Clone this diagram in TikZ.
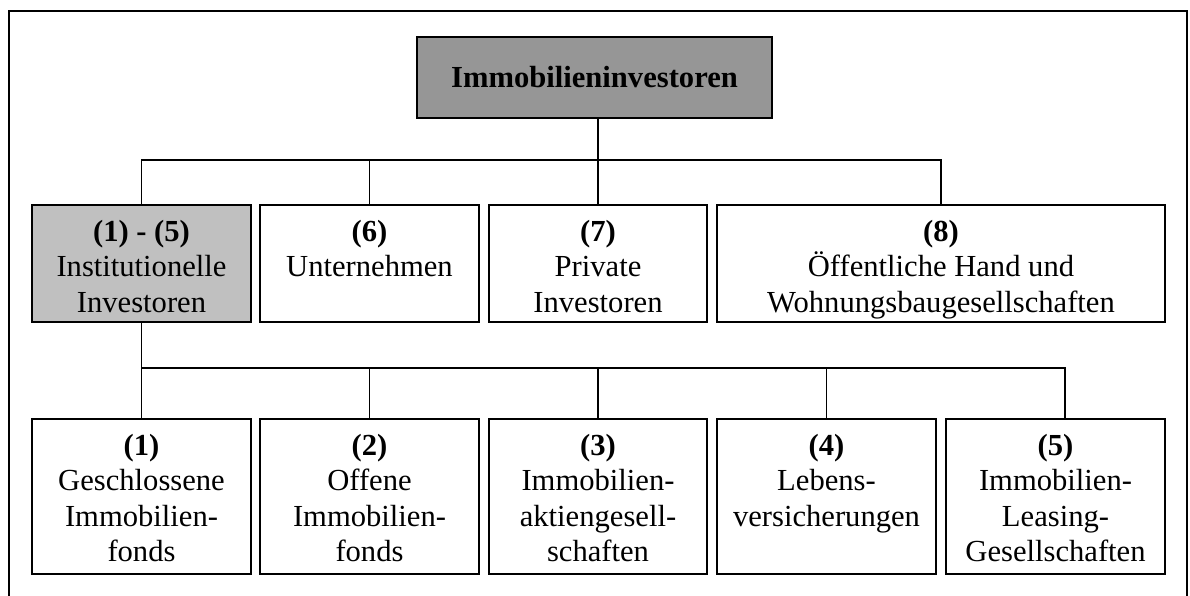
\documentclass[tikz,border=0pt]{standalone}
\usepackage{fontspec}
\setmainfont{Liberation Serif}
\usetikzlibrary{calc}
\definecolor{rootgray}{RGB}{150,150,150}
\definecolor{groupgray}{RGB}{192,192,192}
% cell text: top-aligned lines inside a fixed box
\newcommand{\celltext}[3]{\parbox[c][#2][t]{#1}{\centering\rule{0pt}{36.5pt}#3}}
\begin{document}
\begin{tikzpicture}[x=1pt,y=-1pt,
  every node/.style={font=\fontsize{30.6}{35.4}\selectfont},
  cell/.style={draw, line width=1.8pt, inner sep=0pt, outer sep=0pt, anchor=north west},
  conn/.style={line width=1.8pt},
  frame/.style={line width=2.4pt}]
\useasboundingbox (0,0) rectangle (1190,596);
% open frame around the chart
\draw[frame] (9,596) -- (9,11) -- (1187,11) -- (1187,596);

% root
\node[draw, line width=1.8pt, fill=rootgray, inner sep=0pt, outer sep=0pt,
      minimum width=355pt, minimum height=81pt, font=\fontsize{30.6}{35.4}\selectfont\bfseries]
  (root) at (594.5,77.5) {Immobilieninvestoren};

% first level
\node[cell, fill=groupgray] (inst) at (32,205) {\celltext{219pt}{117pt}{\textbf{(1) - (5)}\\Institutionelle\\Investoren}};
\node[cell] (n6) at (260,205) {\celltext{219pt}{117pt}{\textbf{(6)}\\Unternehmen}};
\node[cell] (n7) at (489,205) {\celltext{218pt}{117pt}{\textbf{(7)}\\Private\\Investoren}};
\node[cell] (n8) at (717,205) {\celltext{448pt}{117pt}{\textbf{(8)}\\Öffentliche Hand und\\Wohnungsbaugesellschaften}};

% second level
\node[cell] (b1) at (32,419) {\celltext{219pt}{155pt}{\textbf{(1)}\\Geschlossene\\Immobilien-\\fonds}};
\node[cell] (b2) at (260,419) {\celltext{219pt}{155pt}{\textbf{(2)}\\Offene\\Immobilien-\\fonds}};
\node[cell] (b3) at (489,419) {\celltext{218pt}{155pt}{\textbf{(3)}\\Immobilien-\\aktiengesell-\\schaften}};
\node[cell] (b4) at (717,419) {\celltext{219pt}{155pt}{\textbf{(4)}\\Lebens-\\versicherungen}};
\node[cell] (b5) at (946,419) {\celltext{219pt}{155pt}{\textbf{(5)}\\Immobilien-\\Leasing-\\Gesellschaften}};

% bus levels
\coordinate (busA) at (0,160);
\coordinate (busB) at (0,368);
\coordinate (k5) at ($(b5.north)+(9.5,0)$);

% connectors, first level
\draw[conn] (root.south -| n7.north) -- (n7.north);
\draw[conn] (inst.north) |- (n8.north |- busA) -- (n8.north);
\draw[conn] (n6.north) -- (n6.north |- busA);

% connectors, second level
\draw[conn] (inst.south) -- (b1.north);
\draw[conn] (b1.north |- busB) -- (k5 |- busB) -- (k5);
\draw[conn] (b2.north) -- (b2.north |- busB);
\draw[conn] (b3.north) -- (b3.north |- busB);
\draw[conn] (b4.north) -- (b4.north |- busB);
\end{tikzpicture}
\end{document}
